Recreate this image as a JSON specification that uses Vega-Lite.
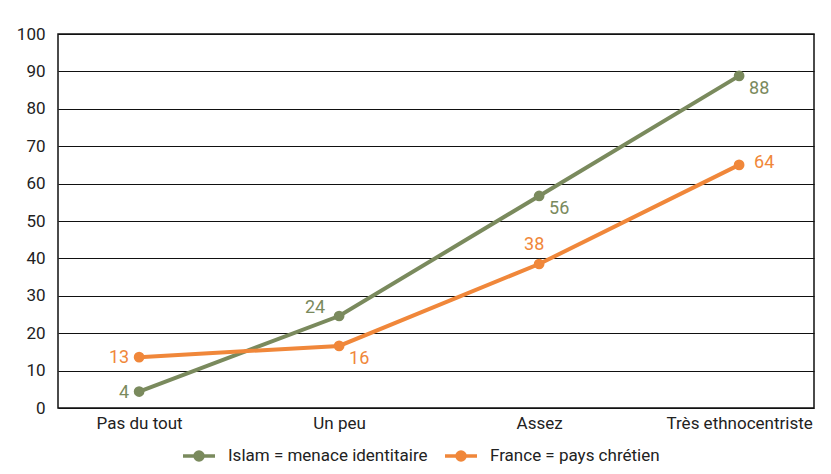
{
  "$schema": "https://vega.github.io/schema/vega-lite/v6.json",
  "width": 756,
  "height": 374,
  "autosize": {"type": "none"},
  "padding": {"left": 58, "top": 34, "right": 17, "bottom": 66},
  "background": "white",
  "config": {
    "font": "Roboto",
    "view": {"stroke": "#111", "strokeWidth": 1.5},
    "axis": {"labelFont": "Roboto", "labelFontSize": 17, "labelColor": "#222", "ticks": false, "domain": false, "title": null},
    "legend": {"labelFont": "Roboto"}
  },
  "data": {
    "values": [
      {"serie": "Islam = menace identitaire", "cat": "Pas du tout", "value": 4.4, "label": "4"},
      {"serie": "Islam = menace identitaire", "cat": "Un peu", "value": 24.6, "label": "24"},
      {"serie": "Islam = menace identitaire", "cat": "Assez", "value": 56.7, "label": "56"},
      {"serie": "Islam = menace identitaire", "cat": "Très ethnocentriste", "value": 88.8, "label": "88"},
      {"serie": "France = pays chrétien", "cat": "Pas du tout", "value": 13.6, "label": "13"},
      {"serie": "France = pays chrétien", "cat": "Un peu", "value": 16.6, "label": "16"},
      {"serie": "France = pays chrétien", "cat": "Assez", "value": 38.5, "label": "38"},
      {"serie": "France = pays chrétien", "cat": "Très ethnocentriste", "value": 65.0, "label": "64"}
    ]
  },
  "encoding": {
    "x": {
      "field": "cat", "type": "ordinal",
      "scale": {"type": "point", "domain": ["Pas du tout", "Un peu", "Assez", "Très ethnocentriste"], "padding": 0.39, "align": 0.52},
      "axis": {"labelAngle": 0, "labelPadding": 7, "grid": false}
    },
    "y": {
      "field": "value", "type": "quantitative",
      "scale": {"domain": [0, 100], "nice": false},
      "axis": {"values": [0, 10, 20, 30, 40, 50, 60, 70, 80, 90, 100], "labelPadding": 13, "grid": true, "gridColor": "#111", "gridWidth": 1, "gridOpacity": 1}
    },
    "color": {
      "field": "serie", "type": "nominal",
      "scale": {"domain": ["Islam = menace identitaire", "France = pays chrétien"], "range": ["#7a8a5d", "#f0873a"]},
      "legend": {
        "title": null, "orient": "none", "direction": "horizontal",
        "legendX": 123, "legendY": 404, "padding": 0,
        "symbolType": "M-1,0H1M-0.25,0A0.25,0.25 0 1,0 0.25,0A0.25,0.25 0 1,0 -0.25,0Z",
        "symbolSize": 1024, "symbolStrokeWidth": 3.5,
        "labelFontSize": 17, "labelColor": "#222", "labelOffset": 11, "labelLimit": 400,
        "columnPadding": 10,
        "encode": {"symbols": {"update": {"fill": {"scale": "color", "field": "value"}, "stroke": {"scale": "color", "field": "value"}, "opacity": {"value": 1}}}}
      }
    }
  },
  "layer": [
    {"mark": {"type": "line", "strokeWidth": 4}},
    {"mark": {"type": "point", "filled": true, "size": 115, "opacity": 1}},
    {
      "transform": [{"filter": "datum.cat == 'Pas du tout'"}],
      "mark": {"type": "text", "align": "right", "baseline": "middle", "dx": -10, "dy": 1, "fontSize": 18},
      "encoding": {"text": {"field": "label"}}
    },
    {
      "transform": [{"filter": "datum.cat == 'Un peu' && datum.serie == 'Islam = menace identitaire'"}],
      "mark": {"type": "text", "align": "right", "baseline": "middle", "dx": -14, "dy": -8, "fontSize": 18},
      "encoding": {"text": {"field": "label"}}
    },
    {
      "transform": [{"filter": "(datum.cat == 'Un peu' && datum.serie == 'France = pays chrétien') || (datum.serie == 'Islam = menace identitaire' && (datum.cat == 'Assez' || datum.cat == 'Très ethnocentriste'))"}],
      "mark": {"type": "text", "align": "left", "baseline": "middle", "dx": 10, "dy": 13, "fontSize": 18},
      "encoding": {"text": {"field": "label"}}
    },
    {
      "transform": [{"filter": "datum.cat == 'Assez' && datum.serie == 'France = pays chrétien'"}],
      "mark": {"type": "text", "align": "center", "baseline": "middle", "dx": -5, "dy": -19, "fontSize": 18},
      "encoding": {"text": {"field": "label"}}
    },
    {
      "transform": [{"filter": "datum.cat == 'Très ethnocentriste' && datum.serie == 'France = pays chrétien'"}],
      "mark": {"type": "text", "align": "left", "baseline": "middle", "dx": 15, "dy": -2, "fontSize": 18},
      "encoding": {"text": {"field": "label"}}
    }
  ]
}
